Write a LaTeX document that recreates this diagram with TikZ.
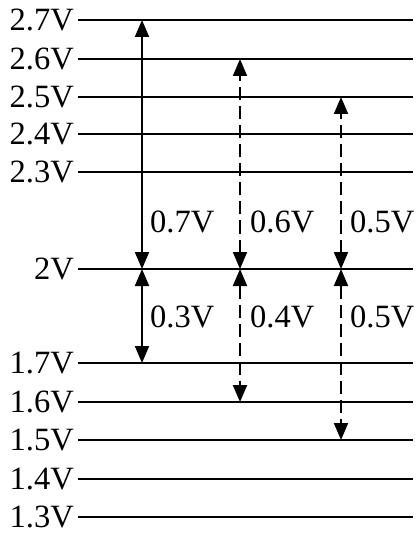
\documentclass[tikz,border=0pt]{standalone}
\usepackage{fontspec}
\setmainfont{Liberation Serif}
\usetikzlibrary{arrows.meta}
\tikzset{
  lvl/.style={anchor=east,inner sep=0pt,font=\fontsize{32.5}{36}\selectfont},
  gap/.style={anchor=west,inner sep=0pt,font=\fontsize{32.5}{36}\selectfont},
  span/.style={line width=2pt,{Triangle[length=17pt,width=14pt]}-{Triangle[length=17pt,width=14pt]}},
  dsh/.style={dash pattern=on 13pt off 6pt}
}
\begin{document}
\begin{tikzpicture}[x=1pt,y=-1pt]
\useasboundingbox (0,0) rectangle (415,534);
% voltage levels
\foreach \v/\y/\n in {2.7V/20/l27,2.6V/59/l26,2.5V/97/l25,2.4V/134/l24,2.3V/172/l23,
  2V/269/l20,1.7V/363/l17,1.6V/402/l16,1.5V/440/l15,1.4V/479/l14,1.3V/517/l13}{
  \node[lvl] (\n) at (74,\y) {\v};
  \coordinate (\n r) at (413,\y);
  \draw[line width=2pt] (78,\y) -- (\n r);
}
% arrow ends
\coordinate (a27) at (142,20);
\coordinate (a20) at (142,269);
\coordinate (a17) at (142,363);
\coordinate (b26) at (240,59);
\coordinate (b20) at (240,269);
\coordinate (b16) at (240,402);
\coordinate (c25) at (341,97);
\coordinate (c20) at (341,269);
\coordinate (c15) at (341,440);
\draw[span] (a20) -- (a27);
\draw[span] (a20) -- (a17);
\draw[span,dsh] (b20) -- (b26);
\draw[span,dsh] (b20) -- (b16);
\draw[span,dsh] (c20) -- (c25);
\draw[span,dsh] (c20) -- (c15);
% differences
\node[gap] (d07) at (150,222) {0.7V};
\node[gap] (d06) at (250,222) {0.6V};
\node[gap] (d05) at (350,222) {0.5V};
\node[gap] (d03) at (150,317) {0.3V};
\node[gap] (d04) at (250,317) {0.4V};
\node[gap] (d05b) at (350,317) {0.5V};
\end{tikzpicture}
\end{document}
